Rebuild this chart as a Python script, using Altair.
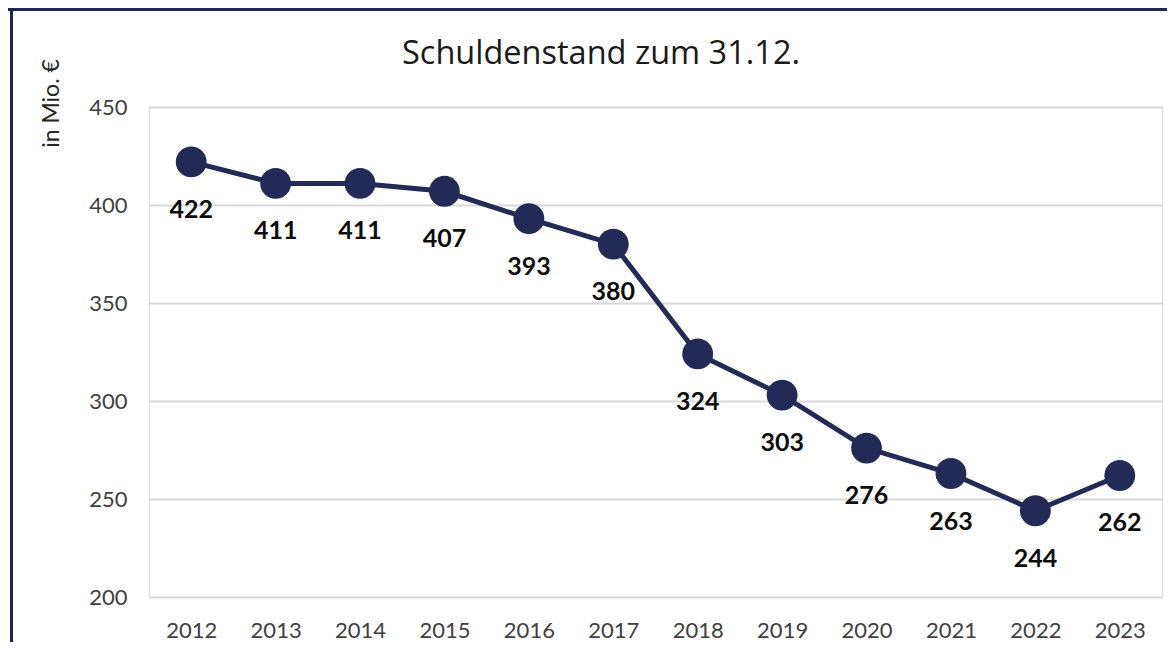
import altair as alt
import pandas as pd

years = ["2012", "2013", "2014", "2015", "2016", "2017", "2018", "2019", "2020", "2021", "2022", "2023"]
values = [422, 411, 411, 407, 393, 380, 324, 303, 276, 263, 244, 262]
y_ticks = [200, 250, 300, 350, 400, 450]
chart_title = ["Schuldenstand zum 31.12."]

df = pd.DataFrame({"year": years, "value": values})

NAVY = "#232a56"
FONT = "Lato"
W, H = 1013, 490
PAD = {"left": 141, "top": 99, "right": 5, "bottom": 45}

x_enc = alt.X("year:N", sort=years, title=None,
              scale=alt.Scale(paddingInner=1, paddingOuter=0.5),
              axis=alt.Axis(labelAngle=0, labelFontSize=22, labelColor="#404040",
                            labelFont=FONT, labelPadding=23, ticks=False, domain=False,
                            grid=False))
y_enc = alt.Y("value:Q", title="in Mio. €",
              scale=alt.Scale(domain=[200, 450], nice=False, zero=False),
              axis=alt.Axis(values=y_ticks, labelFontSize=22, labelColor="#404040",
                            labelFont=FONT, labelPadding=22, ticks=False, domain=False,
                            grid=True, gridColor="#d9d9d9", gridWidth=2,
                            titleFont=FONT, titleFontSize=23, titleFontWeight="normal",
                            titleColor="#262626", titleAngle=270, titleAlign="center",
                            titleBaseline="middle", titleX=-98, titleY=-4))

base = alt.Chart(df)

line = base.mark_line(color=NAVY, strokeWidth=5).encode(x=x_enc, y=y_enc)
points = base.mark_circle(color=NAVY, opacity=1, size=950).encode(x=x_enc, y=y_enc)
labels = base.mark_text(font=FONT, fontSize=25, fontWeight="bold", color="#0d0d0d",
                        dy=48, baseline="middle", align="center").encode(
    x=x_enc, y=y_enc, text="value:Q")

title_df = pd.DataFrame({"t": chart_title})
title = alt.Chart(title_df).mark_text(font="Open Sans", fontSize=32.5, fontWeight="normal",
                                      color="#1a1a1a", align="center",
                                      baseline="middle").encode(
    x=alt.value(452), y=alt.value(-53), text="t:N")

frame_top = alt.Chart(df).mark_rule(color="#1f2552", strokeWidth=3).encode(
    x=alt.value(-141), x2=alt.value(W + 5), y=alt.value(-97.5))
frame_left = alt.Chart(df).mark_rule(color="#1f2552", strokeWidth=3).encode(
    x=alt.value(-137.5), y=alt.value(-99), y2=alt.value(H + 45))

chart = alt.layer(line, points, labels, title, frame_top, frame_left).properties(
    width=W, height=H,
    autosize=alt.AutoSizeParams(type="none"),
    padding=PAD,
).configure_view(stroke=None).configure(background="white")

chart.save("out.html", embed_options={"renderer": "svg", "actions": False})
